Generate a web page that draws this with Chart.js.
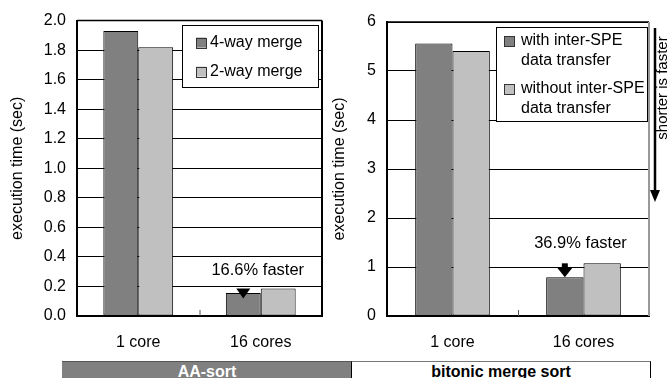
<!DOCTYPE html>
<html>
<head>
<meta charset="utf-8">
<script src="https://cdn.jsdelivr.net/npm/chart.js@4/dist/chart.umd.min.js"></script>
<style>
  html, body { margin: 0; padding: 0; background: #fff; width: 669px; height: 378px; overflow: hidden; }
  #wrap { position: relative; width: 669px; height: 378px; font-family: "Liberation Sans", Arial, sans-serif; }
  #cLeft { position: absolute; left: 0; top: 0; }
  #cRight { position: absolute; left: 330px; top: 0; }
  .band { position: absolute; top: 361px; height: 30px; box-sizing: border-box; text-align: center;
          font-weight: bold; font-size: 16px; line-height: 18px; padding-top: 1px; }
  #bandA { left: 62px; width: 290px; background: #808080; color: #fff; border-top: 1px solid #555; }
  #bandB { left: 351px; width: 300px; background: #fff; color: #000; border: 1.5px solid #000; border-top-color: #777; }
</style>
</head>
<body>
<div id="wrap">
  <canvas id="cLeft" width="330" height="360"></canvas>
  <canvas id="cRight" width="339" height="360"></canvas>
  <div class="band" id="bandA">AA-sort</div>
  <div class="band" id="bandB">bitonic merge sort</div>
</div>
<script>
// ---------- data ----------
const categories = ['1 core', '16 cores'];

const aaSeriesNames = ['4-way merge', '2-way merge'];
const aaFourWay = [1.93, 0.155];
const aaTwoWay = [1.82, 0.187];
const aaTicks = [0.0, 0.2, 0.4, 0.6, 0.8, 1.0, 1.2, 1.4, 1.6, 1.8, 2.0];
const aaNote = '16.6% faster';

const bmSeriesNames = [['with inter-SPE', 'data transfer'], ['without inter-SPE', 'data transfer']];
const bmWith = [5.56, 0.79];
const bmWithout = [5.41, 1.075];
const bmTicks = [0, 1, 2, 3, 4, 5, 6];
const bmNote = '36.9% faster';

const yTitle = 'execution time (sec)';
const sideNote = 'shorter is faster';

// ---------- styles ----------
const FONT = '"Liberation Sans", Arial, sans-serif';
const DARK = '#808080';
const LIGHT = '#c0c0c0';

const decorPlugin = {
  id: 'decor',
  afterDatasetsDraw(chart, args, opts) {
    const ctx = chart.ctx;
    const a = chart.chartArea;
    const xs = chart.scales.x;
    ctx.save();
    // frame top + right
    ctx.strokeStyle = '#000';
    ctx.lineWidth = 1.5;
    ctx.beginPath();
    ctx.moveTo(a.left, a.top); ctx.lineTo(a.right, a.top);
    ctx.stroke();
    ctx.strokeStyle = opts.rightColor;
    ctx.lineWidth = 2;
    ctx.beginPath();
    ctx.moveTo(a.right, a.top); ctx.lineTo(a.right, a.bottom);
    ctx.stroke();
    // middle tick between categories
    const mid = (xs.getPixelForTick(0) + xs.getPixelForTick(1)) / 2;
    ctx.strokeStyle = '#555';
    ctx.lineWidth = 1;
    ctx.beginPath();
    ctx.moveTo(mid + 0.5, a.bottom); ctx.lineTo(mid + 0.5, a.bottom - 6);
    ctx.stroke();

    // legend
    const L = opts.legend;
    const bx = a.right - L.offRight - L.w, by = a.top + L.offTop;
    ctx.fillStyle = '#fff';
    ctx.fillRect(bx, by, L.w, L.h);
    ctx.strokeStyle = '#000';
    ctx.lineWidth = 1;
    ctx.strokeRect(Math.round(bx) + 0.5, Math.round(by) + 0.5, Math.round(L.w), Math.round(L.h));
    ctx.font = '16px ' + FONT;
    ctx.textBaseline = 'middle';
    ctx.textAlign = 'left';
    chart.data.datasets.forEach((ds, i) => {
      const lines = Array.isArray(ds.label) ? ds.label : [ds.label];
      const cy = by + L.firstY + i * L.itemGap;
      ctx.fillStyle = ds.backgroundColor;
      ctx.fillRect(bx + L.markX, cy - 5, 10, 10);
      ctx.strokeStyle = '#333';
      ctx.strokeRect(Math.round(bx + L.markX) + 0.5, Math.round(cy - 5) + 0.5, 10, 10);
      ctx.fillStyle = '#000';
      lines.forEach((t, j) => ctx.fillText(t, bx + L.textX, cy + j * L.lineGap));
    });

    // annotation over the second category
    const m0 = chart.getDatasetMeta(0).data[1];
    const m1 = chart.getDatasetMeta(1).data[1];
    const cx = m0.x;
    const y1 = m1.y, y2 = m0.y;
    ctx.fillStyle = '#000';
    const headH = 10, headW = 14;
    if (y2 - y1 > headH + 2) {
      ctx.fillRect(cx - 3, y1, 6, y2 - headH - y1 + 1);
      ctx.beginPath();
      ctx.moveTo(cx - headW / 2 - 1, y2 - headH); ctx.lineTo(cx + headW / 2 + 1, y2 - headH); ctx.lineTo(cx, y2);
      ctx.closePath(); ctx.fill();
    } else {
      ctx.beginPath();
      ctx.moveTo(cx - headW / 2, y1); ctx.lineTo(cx + headW / 2, y1); ctx.lineTo(cx, y1 + headH);
      ctx.closePath(); ctx.fill();
    }
    ctx.font = '16.5px ' + FONT;
    ctx.textAlign = 'center';
    ctx.textBaseline = 'middle';
    ctx.fillText(opts.note, xs.getPixelForTick(1) - 3, Math.min(y1, y2) - opts.noteGap);

    // side arrow
    if (opts.side) {
      const sx = a.right + 6;
      ctx.strokeStyle = '#000';
      ctx.lineWidth = 2.5;
      ctx.beginPath();
      ctx.moveTo(sx, a.top + 6); ctx.lineTo(sx, a.top + 170);
      ctx.stroke();
      ctx.beginPath();
      ctx.moveTo(sx - 5, a.top + 168); ctx.lineTo(sx + 5, a.top + 168); ctx.lineTo(sx, a.top + 180);
      ctx.closePath(); ctx.fill();
      ctx.save();
      ctx.translate(sx + 12, a.top + 66);
      ctx.rotate(-Math.PI / 2);
      ctx.textAlign = 'center';
      ctx.textBaseline = 'alphabetic';
      ctx.font = '15px ' + FONT;
      ctx.fillText(opts.side, 0, 0);
      ctx.restore();
    }
    ctx.restore();
  }
};

function makeChart(canvasId, seriesNames, s1, s2, ticks, tickFmt, yAxisWidth, pad, titlePad, decorOpts) {
  return new Chart(document.getElementById(canvasId), {
    type: 'bar',
    data: {
      labels: categories,
      datasets: [
        { label: seriesNames[0], data: s1, backgroundColor: DARK, borderColor: '#000', borderWidth: 1, borderSkipped: false },
        { label: seriesNames[1], data: s2, backgroundColor: LIGHT, borderColor: '#000', borderWidth: 1, borderSkipped: false }
      ]
    },
    plugins: [decorPlugin],
    options: {
      responsive: false,
      animation: false,
      layout: { padding: pad },
      datasets: { bar: { categoryPercentage: 0.57, barPercentage: 1.0 } },
      plugins: {
        legend: { display: false },
        tooltip: { enabled: false },
        decor: decorOpts
      },
      scales: {
        x: {
          type: 'category',
          grid: { display: false },
          border: { display: true, color: '#000', width: 2 },
          ticks: { color: '#000', font: { family: FONT, size: 16 }, padding: 9 },
          afterFit(s) { s.height = 44; }
        },
        y: {
          min: ticks[0], max: ticks[ticks.length - 1],
          afterBuildTicks(s) { s.ticks = ticks.map(v => ({ value: v })); },
          grid: { color: '#000', lineWidth: 1, drawTicks: false },
          border: { display: true, color: '#000', width: 2 },
          ticks: { color: '#000', font: { family: FONT, size: 16 }, padding: 11, callback: tickFmt },
          title: { display: true, text: yTitle, color: '#000', font: { family: FONT, size: 16 }, padding: titlePad },
          afterFit(s) { s.width = yAxisWidth; }
        }
      }
    }
  });
}

makeChart('cLeft', aaSeriesNames, aaFourWay, aaTwoWay, aaTicks, v => Number(v).toFixed(1), 77,
  { top: 20, right: 8, left: 0, bottom: 0 }, { top: 8, bottom: 0 },
  { rightColor: '#000', note: aaNote, noteGap: 18,
    legend: { w: 136, h: 62, offRight: 4, offTop: 4, markX: 14, textX: 28, firstY: 18, itemGap: 29, lineGap: 20 } });

makeChart('cRight', bmSeriesNames, bmWith, bmWithout, bmTicks, v => String(v), 57,
  { top: 22, right: 20, left: 0, bottom: 0 }, { top: 0, bottom: 0 },
  { rightColor: '#999', note: bmNote, noteGap: 20, side: sideNote,
    legend: { w: 151, h: 94, offRight: 2, offTop: 5, markX: 8, textX: 25, firstY: 14, itemGap: 48, lineGap: 20 } });
</script>
</body>
</html>
